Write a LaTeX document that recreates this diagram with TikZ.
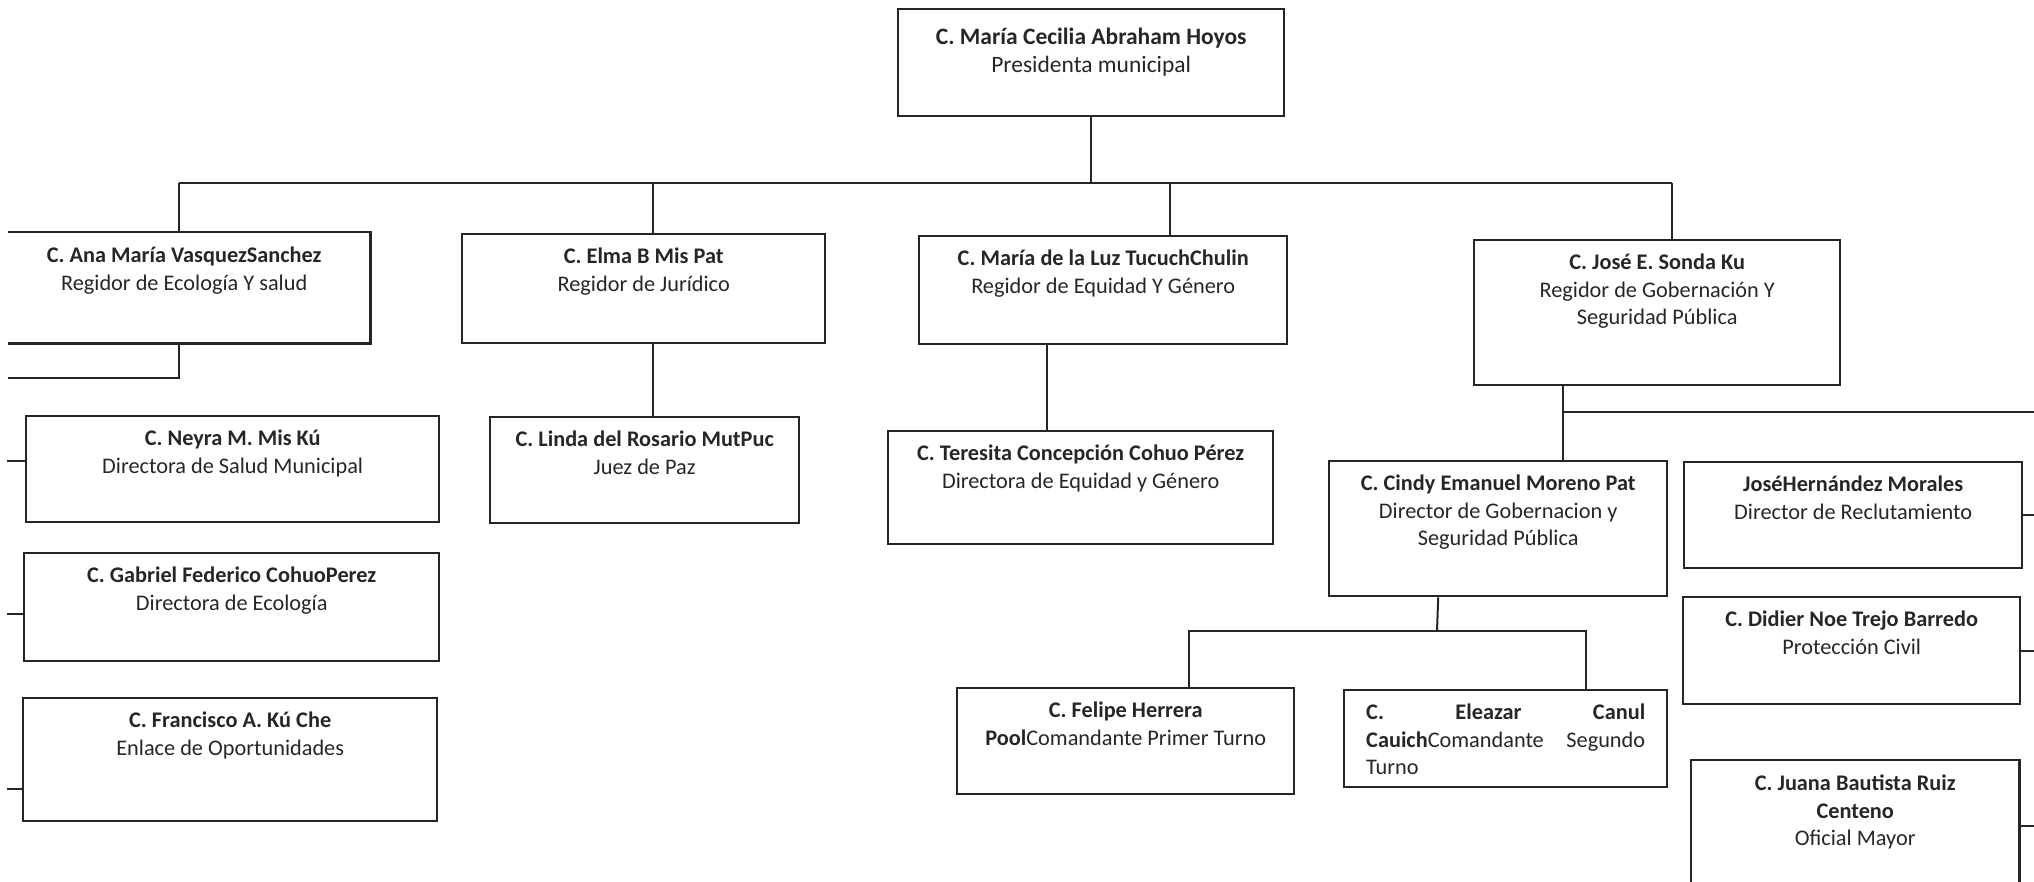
\documentclass[tikz,border=0pt]{standalone}
\usepackage{fontspec}
\setmainfont{Carlito}

\tikzset{
  post/.style={draw=black!85, line width=2.4pt, inner sep=0pt, anchor=north west},
  who/.style={anchor=north, align=center, inner sep=0pt, yshift=-15pt,
    text=black!85, font=\fontsize{22.3}{27.5}\selectfont},
  link/.style={draw=black!85, line width=2pt},
}

\begin{document}
\begin{tikzpicture}[x=1pt, y=-1pt]
  \useasboundingbox (0,0) rectangle (2034,882);

  % presidenta
  \node[post, minimum width=386, minimum height=107,
    label={[who, font=\fontsize{23.5}{27.5}\selectfont, yshift=-5pt]north:{\textbf{C. María Cecilia Abraham Hoyos}\\Presidenta municipal}}] (pres) at (897,8) {};

  % regidores
  \node[post, draw=none, minimum width=360, minimum height=109,
    label={[who, xshift=-5pt]north:{\textbf{C. Ana María VasquezSanchez}\\Regidor de Ecología Y salud}}] (ana) at (8,232) {};
  \node[post, minimum width=363, minimum height=109,
    label={[who]north:{\textbf{C. Elma B Mis Pat}\\Regidor de Jurídico}}] (elma) at (461,233) {};
  \node[post, minimum width=368, minimum height=108,
    label={[who]north:{\textbf{C. María de la Luz TucuchChulin}\\Regidor de Equidad Y Género}}] (luz) at (918,235) {};
  \node[post, minimum width=366, minimum height=145,
    label={[who]north:{\textbf{C. José E. Sonda Ku}\\Regidor de Gobernación Y\\Seguridad Pública}}] (jose) at (1473,239) {};

  % direcciones
  \node[post, minimum width=413, minimum height=106,
    label={[who]north:{\textbf{C. Neyra M. Mis Kú}\\Directora de Salud Municipal}}] (neyra) at (25,415) {};
  \node[post, minimum width=415, minimum height=108,
    label={[who]north:{\textbf{C. Gabriel Federico CohuoPerez}\\Directora de Ecología}}] (gabriel) at (23,552) {};
  \node[post, minimum width=414, minimum height=123,
    label={[who]north:{\textbf{C. Francisco A. Kú Che}\\Enlace de Oportunidades}}] (francisco) at (22,697) {};
  \node[post, minimum width=309, minimum height=106,
    label={[who]north:{\textbf{C. Linda del Rosario MutPuc}\\Juez de Paz}}] (linda) at (489,416) {};
  \node[post, minimum width=385, minimum height=113,
    label={[who]north:{\textbf{C. Teresita Concepción Cohuo Pérez}\\Directora de Equidad y Género}}] (teresita) at (887,430) {};
  \node[post, minimum width=338, minimum height=135,
    label={[who]north:{\textbf{C. Cindy Emanuel Moreno Pat}\\Director de Gobernacion y\\Seguridad Pública}}] (cindy) at (1328,460) {};
  \node[post, minimum width=338, minimum height=106,
    label={[who]north:{\textbf{JoséHernández Morales}\\Director de Reclutamiento}}] (jh) at (1683,461) {};
  \node[post, minimum width=337, minimum height=107,
    label={[who]north:{\textbf{C. Didier Noe Trejo Barredo}\\Protección Civil}}] (didier) at (1682,596) {};
  \node[post, draw=none, minimum width=326, minimum height=130,
    label={[who]north:{\textbf{C. Juana Bautista Ruiz}\\\textbf{Centeno}\\Oficial Mayor}}] (juana) at (1691,760) {};

  % turnos
  \node[post, minimum width=337, minimum height=106,
    label={[who]north:{\textbf{C. Felipe Herrera}\\\textbf{Pool}Comandante Primer Turno}}] (felipe) at (956,687) {};
  \node[post, minimum width=323, minimum height=97,
    label={[who, text width=279, align=left]north:{\textbf{C.}\hfill\textbf{Eleazar}\hfill\textbf{Canul}\\
      \textbf{Cauich}Comandante\hfill Segundo\\Turno}}] (eleazar) at (1343,689) {};

  % open sides
  \draw[post] (ana.north west) -- (ana.north east) -- (ana.south east) -- (ana.south west);
  \draw[post] (juana.south west) -- (juana.north west) -- (juana.north east) -- (juana.south east);

  % connectors
  \coordinate (busL) at (179,183);
  \coordinate (busR) at (1672,183);
  \coordinate (anaOut) at (8,378);
  \coordinate (busE) at (2034,412);
  \coordinate (cbus) at (1437,631);
  \coordinate (lft) at (7,0);
  \coordinate (rgt) at (2034,0);

  \draw[link] (pres.south) -- (pres.south |- busL);
  \draw[link] (busL) -- (busR);
  \draw[link] (busL) -- (busL |- ana.north);
  \draw[link] ([xshift=9.5pt]elma.north) -- ([xshift=9.5pt]elma.north |- busL);
  \draw[link] ([xshift=67pt]luz.north) -- ([xshift=67pt]luz.north |- busL);
  \draw[link] (busR) -- (busR |- jose.north);

  \draw[link] (busL |- ana.south) |- (anaOut);
  \draw[link] ([xshift=9.5pt]elma.south) -- ([xshift=9.5pt]elma.south |- linda.north);
  \draw[link] ([xshift=-56pt]luz.south) -- ([xshift=-56pt]luz.south |- teresita.north);
  \draw[link] ([xshift=-94pt]jose.south) -- ([xshift=-94pt]jose.south |- cindy.north);
  \draw[link] ([xshift=-94pt]jose.south |- busE) -- (busE);

  \draw[link] ([xshift=-60pt]cindy.south) -- (cbus);
  \draw[link] ([xshift=63.5pt]felipe.north) |- (cbus) -| ([xshift=80.5pt]eleazar.north);

  \draw[link] ([yshift=8pt]neyra.west) -- ([yshift=8pt]neyra.west -| lft);
  \draw[link] ([yshift=-7pt]gabriel.west) -- ([yshift=-7pt]gabriel.west -| lft);
  \draw[link] ([yshift=-29.5pt]francisco.west) -- ([yshift=-29.5pt]francisco.west -| lft);

  \draw[link] (jh.east) -- (jh.east -| rgt);
  \draw[link] (didier.east) -- (didier.east -| rgt);
  \draw[link] (juana.east) -- (juana.east -| rgt);
\end{tikzpicture}
\end{document}
